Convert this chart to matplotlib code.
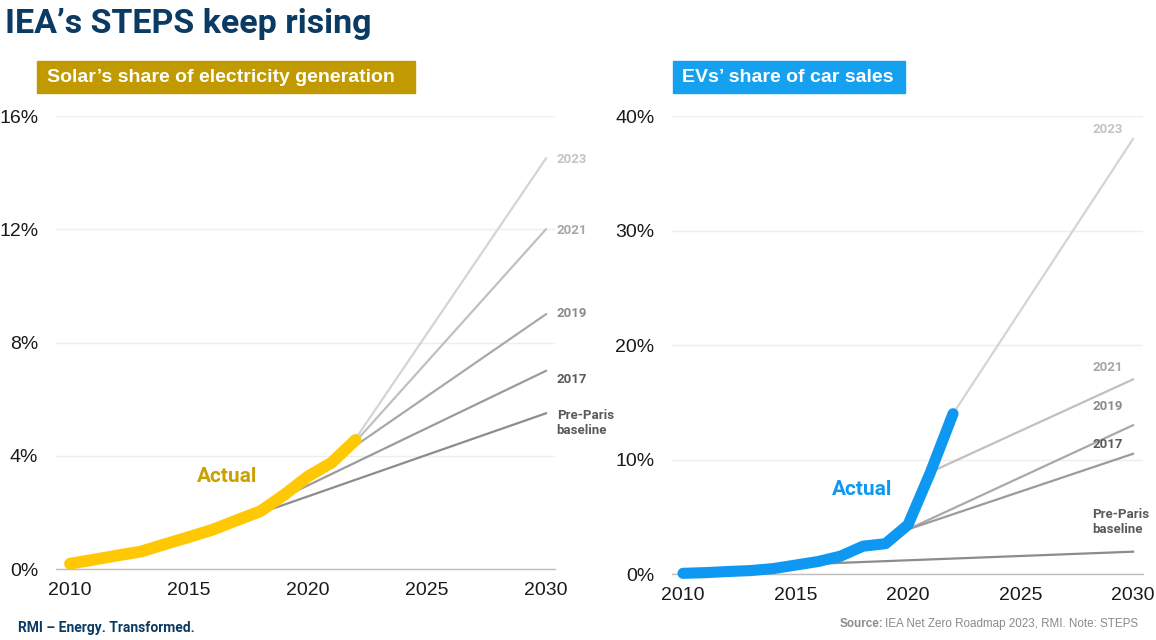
import numpy as np
import matplotlib
matplotlib.use("Agg")
import matplotlib.pyplot as plt

# ---- data ----
years = np.arange(2010, 2023)
solar_actual = [0.19, 0.33, 0.48, 0.62, 0.88, 1.13, 1.39, 1.72, 2.04, 2.62, 3.27, 3.76, 4.56]
ev_actual = [0.06, 0.12, 0.22, 0.30, 0.47, 0.78, 1.09, 1.56, 2.43, 2.65, 4.3, 8.9, 14.0]

proj_names = ['2023', '2021', '2019', '2017', 'Pre-Paris\nbaseline']
# start year, start value, value in 2030
solar_start_year = [2022, 2022, 2020, 2019, 2018]
solar_start_val = [4.6, 4.5, 3.2, 2.55, 1.98]
solar_end_val = [14.5, 12.0, 9.0, 7.0, 5.5]
ev_start_year = [2022, 2021, 2020, 2020, 2016]
ev_start_val = [14.0, 8.9, 3.9, 3.9, 0.9]
ev_end_val = [38.0, 17.0, 13.0, 10.5, 1.95]

# label positions (x, y) in data units
solar_lab_x = [2030.45] * 5
solar_lab_y = [14.45, 11.97, 9.04, 6.68, 5.16]
ev_lab_x = [2028.2] * 5
ev_lab_y = [38.8, 18.08, 14.59, 11.27, 4.54]

line_cols = ['#d4d4d4', '#c0c0c0', '#a9a9a9', '#9b9b9b', '#8c8c8c']
text_cols = ['#c4c4c4', '#a6a6a6', '#8a8a8a', '#5a5a5a', '#5a5a5a']

navy = '#0b3a62'
gold_line = '#ffc805'
gold_text = '#c9a100'
gold_box = '#c09a00'
blue_line = '#0f98f2'
blue_box = '#16a0f0'

fig = plt.figure(figsize=(11.56, 6.4), dpi=100)
fig.patch.set_facecolor('white')

ax1 = fig.add_axes([0.0482, 0.1109, 0.4323, 0.7078])
ax2 = fig.add_axes([0.5811, 0.1031, 0.4078, 0.7156])


def style(ax, ymax, step, xlim):
    ax.set_xlim(*xlim)
    ax.set_ylim(0, ymax)
    ax.set_yticks(np.arange(0, ymax + 0.01, step))
    ax.set_yticklabels(['%d%%' % v for v in np.arange(0, ymax + 0.01, step)])
    ax.set_xticks([2010, 2015, 2020, 2025, 2030])
    for s in ['top', 'right', 'left']:
        ax.spines[s].set_visible(False)
    ax.spines['bottom'].set_color('#bdbdbd')
    ax.spines['bottom'].set_linewidth(1)
    ax.grid(axis='y', color='#eeeeee', lw=1)
    ax.set_axisbelow(True)
    ax.tick_params(length=0, labelsize=14, colors='#1a1a1a')
    ax.tick_params(axis='x', pad=9)
    ax.tick_params(axis='y', pad=12.5)
    for lab in ax.get_xticklabels() + ax.get_yticklabels():
        lab.set_family('Liberation Sans')


style(ax1, 16, 4, (2009.4, 2030.4))
style(ax2, 40, 10, (2009.5, 2030.45))

for i in range(len(proj_names)):
    ax1.plot([solar_start_year[i], 2030], [solar_start_val[i], solar_end_val[i]],
             color=line_cols[i], lw=1.6, zorder=2)
    ax2.plot([ev_start_year[i], 2030], [ev_start_val[i], ev_end_val[i]],
             color=line_cols[i], lw=1.6, zorder=2)
    ax1.text(solar_lab_x[i], solar_lab_y[i], proj_names[i], color=text_cols[i],
             fontsize=9.5, fontweight='bold', family='Roboto', ha='left', va='center',
             linespacing=1.15, clip_on=False)
    ax2.text(ev_lab_x[i], ev_lab_y[i], proj_names[i], color=text_cols[i],
             fontsize=9.5, fontweight='bold', family='Roboto', ha='left', va='center',
             linespacing=1.15, clip_on=False)

ax1.plot(years, solar_actual, color=gold_line, lw=8.5, solid_capstyle='round',
         solid_joinstyle='round', zorder=4, clip_on=False)
ax2.plot(years, ev_actual, color=blue_line, lw=8, solid_capstyle='round',
         solid_joinstyle='round', zorder=4, clip_on=False)

ax1.text(2016.6, 3.28, 'Actual', color=gold_text, fontsize=15, fontweight='bold',
         family='Roboto', ha='center', va='center')
ax2.text(2017.96, 7.34, 'Actual', color=blue_line, fontsize=15, fontweight='bold',
         family='Roboto', ha='center', va='center')

# headline
fig.text(5 / 1156, 1 - 24 / 640, 'IEA\u2019s STEPS keep rising', color=navy,
         fontsize=24.5, fontweight='bold', family='Roboto', ha='left', va='center')

# panel title boxes
fig.patches.append(plt.Rectangle((37 / 1156, 1 - 93 / 640), (415 - 37) / 1156, 32 / 640,
                                 transform=fig.transFigure, color=gold_box, zorder=0))
fig.text(47 / 1156, 1 - 77 / 640, 'Solar\u2019s share of electricity generation', color='white',
         fontsize=14, fontweight='bold', family='Liberation Sans', ha='left', va='center')
fig.patches.append(plt.Rectangle((673 / 1156, 1 - 93 / 640), (905 - 673) / 1156, 32 / 640,
                                 transform=fig.transFigure, color=blue_box, zorder=0))
fig.text(682 / 1156, 1 - 77 / 640, 'EVs\u2019 share of car sales', color='white',
         fontsize=14, fontweight='bold', family='Liberation Sans', ha='left', va='center')

# footer
fig.text(18 / 1156, 1 - 628 / 640, 'RMI \u2013 Energy. Transformed.', color=navy,
         fontsize=10, fontweight='bold', family='Roboto',
         ha='left', va='center')
src = fig.text(1138 / 1156, 1 - 624 / 640, 'IEA Net Zero Roadmap 2023, RMI. Note: STEPS',
               color='#8a8a8a', fontsize=8.4, family='Liberation Sans',
               ha='right', va='center')
fig.canvas.draw()
bb = src.get_window_extent().transformed(fig.transFigure.inverted())
fig.text(bb.x0 - 2 / 1156, 1 - 624 / 640, 'Source:', color='#8a8a8a', fontsize=8.4,
         fontweight='bold', family='Liberation Sans',
         ha='right', va='center')

fig.savefig('out.png', dpi=100, facecolor='white')
